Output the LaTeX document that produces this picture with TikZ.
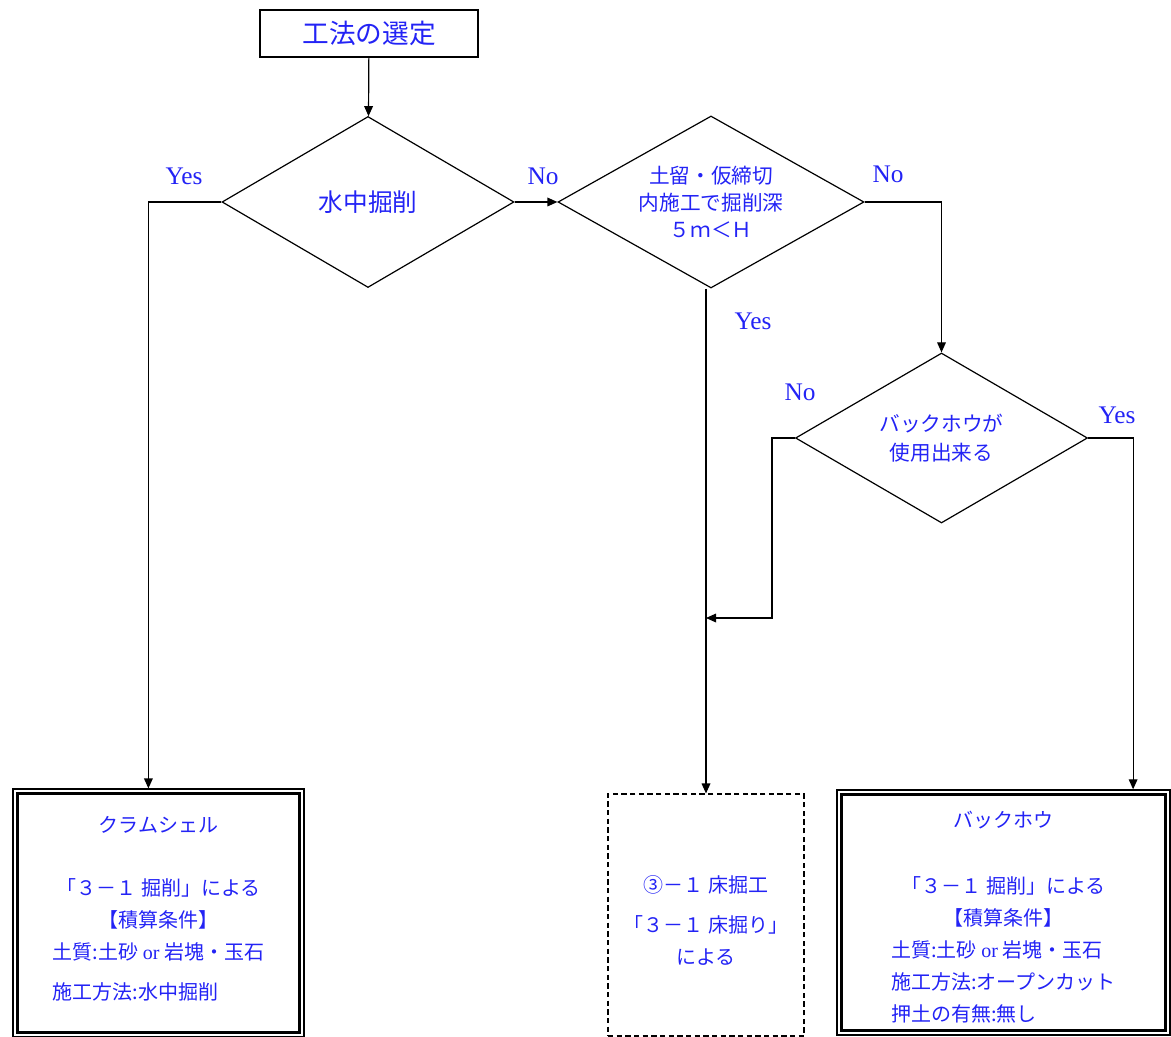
\documentclass[tikz,border=0pt]{standalone}
\usepackage{fontspec}
\setmainfont{Liberation Serif}
\newfontfamily\jpfont{Noto Sans CJK JP}
\usetikzlibrary{shapes.geometric,arrows.meta}
\definecolor{labelblue}{RGB}{35,35,245}
\newcommand{\lat}[1]{{\rmfamily #1}}
\tikzset{
  >={Triangle[length=7.5pt,width=6.5pt]},
  flow/.style={line width=0.9pt},
  titlebox/.style={draw, line width=0.9pt, minimum width=163.5pt, minimum height=35.25pt,
    text=labelblue, font=\jpfont\fontsize{20}{24}\selectfont},
  query/.style={draw, diamond, aspect=1.8, inner sep=0pt, line width=0.9pt, align=center, text=labelblue},
  endbox/.style={draw, line width=0.9pt, align=center, text=labelblue,
    font=\jpfont\fontsize{15}{24}\selectfont},
  answer/.style={text=labelblue, font=\fontsize{19}{22}\selectfont}
}
\begin{document}
\begin{tikzpicture}[x=0.75pt, y=-0.75pt]
      \useasboundingbox (0, 0) rectangle (1171, 1037);
      \node [titlebox] (start) at (369, 33.5) {工法の選定};
      \node [query, minimum width=219pt, minimum height=128.25pt, font=\jpfont\fontsize{18.5}{22}\selectfont] (water) at (368, 202) {水中掘削};
      \node [query, minimum width=229.5pt, minimum height=129pt, font=\jpfont\fontsize{15.5}{20}\selectfont] (depth) at (711, 202) {土留・仮締切\\内施工で掘削深\\５ｍ＜Ｈ};
      \node [query, minimum width=219pt, minimum height=127.5pt, font=\jpfont\fontsize{15.5}{22}\selectfont] (backhoe) at (941.5, 438) {バックホウが\\使用出来る};
      \node [endbox, minimum width=218.25pt, minimum height=186pt] (clam) at (158.5, 913) {クラムシェル\\[23pt]「３－１\ 掘削」による\\【積算条件】\\
        \begin{tabular}[t]{@{}l@{}}土質:土砂 \lat{or} 岩塊・玉石\\[6pt]施工方法:水中掘削\end{tabular}};
      \node [endbox, dash pattern=on 4pt off 2.5pt, line width=0.8pt, minimum width=147pt, minimum height=181.5pt] (floor) at (706, 915) {\rule{0pt}{20.5pt}③－１\ 床掘工\\[6pt]「３－１\ 床掘り」\\による};
      \node [endbox, minimum width=249.75pt, minimum height=183.75pt] (shovel) at (1003.5, 912.5) {\rule{0pt}{25pt}バックホウ\\[25pt]「３－１\ 掘削」による\\【積算条件】\\
        \begin{tabular}[t]{@{}l@{}}土質:土砂 \lat{or} 岩塊・玉石\\施工方法:オープンカット\\押土の有無:無し\end{tabular}};
      \foreach \b in {clam, shovel}
        \draw [line width=2.2pt] ([shift={(5, 5)}]\b.north west) rectangle ([shift={(-5, -5)}]\b.south east);
      \node [answer] (yes1) at (184, 176) {Yes};
      \node [answer] (no1) at (543, 176) {No};
      \node [answer] (no2) at (888, 174) {No};
      \node [answer] (yes2) at (753, 321) {Yes};
      \node [answer] (no3) at (800, 392) {No};
      \node [answer] (yes3) at (1117, 415) {Yes};
      \coordinate (merge) at (706, 618);
      \draw [flow, ->] (start) -- (water);
      \draw [flow, ->] (water.west) -- ++(-73, 0) coordinate (c1) -- (c1 |- clam.north);
      \draw [flow, ->] (water.east) -- (depth.west);
      \draw [flow, ->] (depth.east) -| (backhoe.north);
      \draw [flow, ->] (floor.north |- depth.south) -- (floor.north);
      \draw [flow, ->] (backhoe.west) -- ++(-23, 0) |- (merge);
      \draw [flow, ->] (backhoe.east) -- ++(45, 0) coordinate (c3) -- (c3 |- shovel.north);
    \end{tikzpicture}
\end{document}
